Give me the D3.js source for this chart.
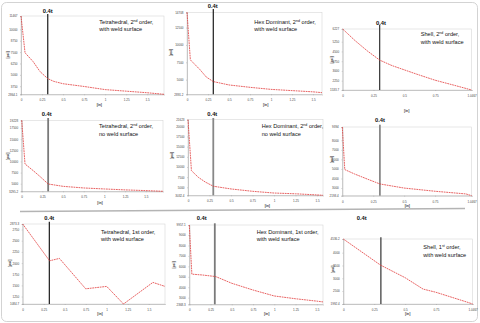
<!DOCTYPE html>
<html>
<head>
<meta charset="utf-8" />
<title>Stress vs depth</title>
<style>
body { margin: 0; background: #fff; }
svg { display: block; font-family: "Liberation Sans", Arial, sans-serif; }
.tick text { font-size: 3px; fill: #444; }
.tick line { stroke: #999; stroke-width: 0.4; }
.domain { stroke: #999; stroke-width: 0.5; }
.title { font-size: 5.6px; fill: #111; }
.mark { font-size: 5.8px; font-weight: bold; fill: #111; text-anchor: middle; }
.unit { font-size: 3.4px; font-weight: bold; fill: #333; text-anchor: middle; }
</style>
<script src="https://cdn.jsdelivr.net/npm/d3@7"></script>
</head>
<body>
<svg width="480" height="323"></svg>

<script>
/********
 * Data *
 ********/

// panel order: left to right, top to bottom
var meshKind = ["Tetrahedral", "Hex Dominant", "Shell",
                "Tetrahedral", "Hex Dominant", "",
                "Tetrahedral", "Hex Dominant", "Shell"];
var meshOrder = ["2nd", "2nd", "2nd", "2nd", "2nd", "", "1st", "1st", "1st"];
var orderSup = [true, true, true, true, true, false, false, false, true];
var surface = ["with weld surface", "with weld surface", "with weld surface",
               "no weld surface", "no weld surface", "",
               "with weld surface", "with weld surface", "with weld surface"];

// depth [in], stress [psi]
var tet2Weld = [[0,11467],[0.048,7424],[0.146,6434],[0.226,5359],[0.318,4585],[0.39,4284],
                [0.5,4026],[0.75,3724],[1.0,3380],[1.25,3208],[1.5,3036],[1.7,2864.1]];
var hex2Weld = [[0,14708],[0.04,7854],[0.155,6436],[0.23,5373],[0.313,4723],[0.5,4238],
                [0.75,3896],[1.0,3601],[1.25,3423],[1.5,3246],[1.607,3128]];
var shell2Weld = [[0,6227],[0.1,5335],[0.2,4538],[0.3,3834],[0.4,3411],[0.5,3083],
                  [0.6,2754],[0.75,2285],[0.9,1909],[1.0467,1533.7]];
var tet2NoWeld = [[0,19228],[0.04,9429],[0.14,7916],[0.22,6641],[0.32,4936],[0.5,4410],
                  [0.75,4044],[1.0,3821],[1.25,3614],[1.5,3454],[1.709,3295.2]];
var hex2NoWeld = [[0,21623],[0.04,9093],[0.12,7457],[0.2,6304],[0.294,5263],[0.5,4594],
                  [0.75,4018],[1.0,3590],[1.25,3405],[1.5,3125],[1.57,3032.4]];
var shell2NoWeld = [[0,9394],[0.02,4930],[0.1,4464],[0.2,3948],[0.304,3425],[0.5,2995],
                    [0.75,2659],[1.0,2379],[1.0467,2193.4]];
var tet1Weld = [[0,2873.3],[0.32,2050.5],[0.437,2104.2],[0.75,1424.5],[1.0,1478.2],
                [1.2,1084.7],[1.55,1567.6],[1.694,1478.2]];
var hex1Weld = [[0,9957.1],[0.03,5252],[0.15,5176],[0.31,5024],[0.5,4379],[0.75,3734],
                [1.0,3165],[1.25,2899],[1.5,2672],[1.573,2596]];
var shell1Weld = [[0,4536.2],[0.15,4027],[0.3,3518],[0.5,3022],[0.645,2577],[0.75,2450],
                  [1.0,2068],[1.0467,1992.4]];

var series = [tet2Weld, hex2Weld, shell2Weld, tet2NoWeld, hex2NoWeld, shell2NoWeld,
              tet1Weld, hex1Weld, shell1Weld];

var yMin = [2864.1, 2891.2, 1533.7, 3295.2, 3032.4, 2193.4, 1084.7, 2368.3, 1992.4];
var yMax = [11467, 14708, 6227, 19228, 21623, 9394, 2873.3, 9957.1, 4536.2];
var yTicks = [
  [3750, 5000, 6250, 7500, 8750, 10000],
  [5000, 7500, 10000, 12500],
  [2250, 3000, 3750, 4500, 5250],
  [5000, 7500, 10000, 12500, 15000, 17500],
  [5000, 7500, 10000, 12500, 15000, 17500, 20000],
  [3000, 4000, 5000, 6000, 7000, 8000],
  [1250, 1500, 1750, 2000, 2250, 2500, 2750],
  [3000, 4000, 5000, 6000, 7000, 8000, 9000],
  [2500, 3000, 3500, 4000]
];
var xMax = [1.7, 1.607, 1.0467, 1.709, 1.57, 1.0467, 1.694, 1.573, 1.0467];
var xTicksLong = [0, 0.25, 0.5, 0.75, 1, 1.25, 1.5];
var xTicksShell = [0, 0.25, 0.5, 0.75, 1.0467];

// depth of the 0.4t marker [in]
var markAt = [0.318, 0.313, 0.30, 0.32, 0.294, 0.304, 0.317, 0.30, 0.304];

/**********
 * Layout *
 **********/

// plot box: left, top, right, bottom
var boxes = [
  [21, 16, 164, 94.3], [187, 12.3, 322, 94.3], [342.7, 29, 471.7, 90],
  [21.7, 120.3, 163, 191.3], [188, 119.7, 323, 195.3], [342.3, 127, 471.7, 195.7],
  [22.7, 224, 165, 304], [189.3, 225, 323, 304.3], [343.3, 239, 472.7, 304]
];
// marker label x, y and top of the marker line
var markPos = [
  [47.7, 13, 14], [212.7, 8, 9], [381, 24.7, 25],
  [46.7, 115.7, 118], [212.3, 115.7, 118], [380, 122.3, 124.7],
  [49.3, 219.7, 221.7], [201.7, 219.7, 223.3], [361.7, 220.3, 237.3]
];
var markStyle = [
  ["#1a1a1a", 1.2], ["#1a1a1a", 1.2], ["#333", 1.2],
  ["#7a7a7a", 1.8], ["#888", 1.8], ["#888", 1.8],
  ["#1a1a1a", 1.2], ["#7a7a7a", 1.8], ["#333", 1.2]
];
var titlePos = [
  [99.3, 23.7], [254.3, 23.7], [420.7, 36.3],
  [99, 128.3], [261.7, 128.3], null,
  [101, 233.7], [256.7, 233.7], [423.3, 249.3]
];
var psiPos = [
  [7.3, 55], [170.7, 52.7], [331.7, 60],
  [7.3, 156.3], [171.7, 155.7], [331.7, 159.7],
  [9.3, 263.3], [174, 265], [332.3, 269.3]
];
var inPos = [
  [99.3, 106], [265.7, 106], [406.7, 111.7],
  [100, 204], [267.3, 207.3], [407.3, 207.3],
  [100, 315.3], [266.7, 315.3], [407.7, 315]
];

/**************
 * Make Chart *
 **************/

var svg = d3.select("svg");

svg.append("rect")
    .attr("x", 1.5).attr("y", 2.5)
    .attr("width", 476).attr("height", 319)
    .attr("rx", 5)
    .attr("fill", "#fff")
    .attr("stroke", "#c8c8c8")
    .attr("stroke-width", 0.8);

// separator above the 1st order row
svg.append("line")
    .attr("x1", 20).attr("y1", 211.5)
    .attr("x2", 465).attr("y2", 208.5)
    .attr("stroke", "#b4b4b4")
    .attr("stroke-width", 1.4);

function fmtY(d) { return Number.isInteger(d) ? d : d.toFixed(1); }
function fmtX(d) { return d; }

series.forEach(function(data, i) {
  var b = boxes[i];
  var g = svg.append("g").attr("class", "panel");

  var x = d3.scaleLinear().domain([0, xMax[i]]).range([b[0], b[2]]);
  var y = d3.scaleLinear().domain([yMin[i], yMax[i]]).range([b[3], b[1]]);

  g.append("rect")
      .attr("x", b[0]).attr("y", b[1])
      .attr("width", b[2] - b[0]).attr("height", b[3] - b[1])
      .attr("fill", "#fff")
      .attr("stroke", "#cfcfcf")
      .attr("stroke-width", 0.5);

  var xt = (i % 3 == 2) ? xTicksShell : xTicksLong;

  g.append("g")
      .attr("transform", "translate(0," + b[3] + ")")
      .call(d3.axisBottom(x).tickValues(xt).tickSize(1).tickPadding(4).tickFormat(fmtX));

  g.append("g")
      .attr("transform", "translate(" + b[0] + ",0)")
      .call(d3.axisLeft(y)
        .tickValues([yMin[i]].concat(yTicks[i], [yMax[i]]))
        .tickSize(1).tickPadding(2.5).tickFormat(fmtY));

  // 0.4t marker
  g.append("line")
      .attr("x1", x(markAt[i])).attr("x2", x(markAt[i]))
      .attr("y1", markPos[i][2]).attr("y2", b[3])
      .attr("stroke", markStyle[i][0])
      .attr("stroke-width", markStyle[i][1]);

  g.append("text")
      .attr("class", "mark")
      .attr("x", markPos[i][0]).attr("y", markPos[i][1])
      .text("0.4t");

  // stress curve
  var line = d3.line()
      .x(function(d) { return x(d[0]); })
      .y(function(d) { return y(d[1]); });

  g.append("path")
      .datum(data)
      .attr("d", line)
      .attr("fill", "none")
      .attr("stroke", "#e23b3b")
      .attr("stroke-width", 0.8)
      .attr("stroke-dasharray", "1.8,0.7");

  // axis titles
  g.append("text")
      .attr("class", "unit")
      .attr("transform", "translate(" + psiPos[i][0] + "," + psiPos[i][1] + ") rotate(-90)")
      .attr("dy", "0.35em")
      .text("[psi]");

  g.append("text")
      .attr("class", "unit")
      .attr("x", inPos[i][0]).attr("y", inPos[i][1])
      .text("[in]");

  // panel title
  if (titlePos[i]) {
    var t = g.append("text")
        .attr("class", "title")
        .attr("x", titlePos[i][0]).attr("y", titlePos[i][1]);
    var ord = meshOrder[i];
    t.append("tspan").text(meshKind[i] + ", " + ord.charAt(0));
    if (orderSup[i]) {
      t.append("tspan").attr("dy", -2).attr("font-size", "3.6px").text(ord.slice(1));
      t.append("tspan").attr("dy", 2).text(" order,");
    } else {
      t.append("tspan").text(ord.slice(1) + " order,");
    }
    g.append("text")
        .attr("class", "title")
        .attr("x", titlePos[i][0]).attr("y", titlePos[i][1] + 7.7)
        .text(surface[i]);
  }
});
</script>
</body>
</html>
